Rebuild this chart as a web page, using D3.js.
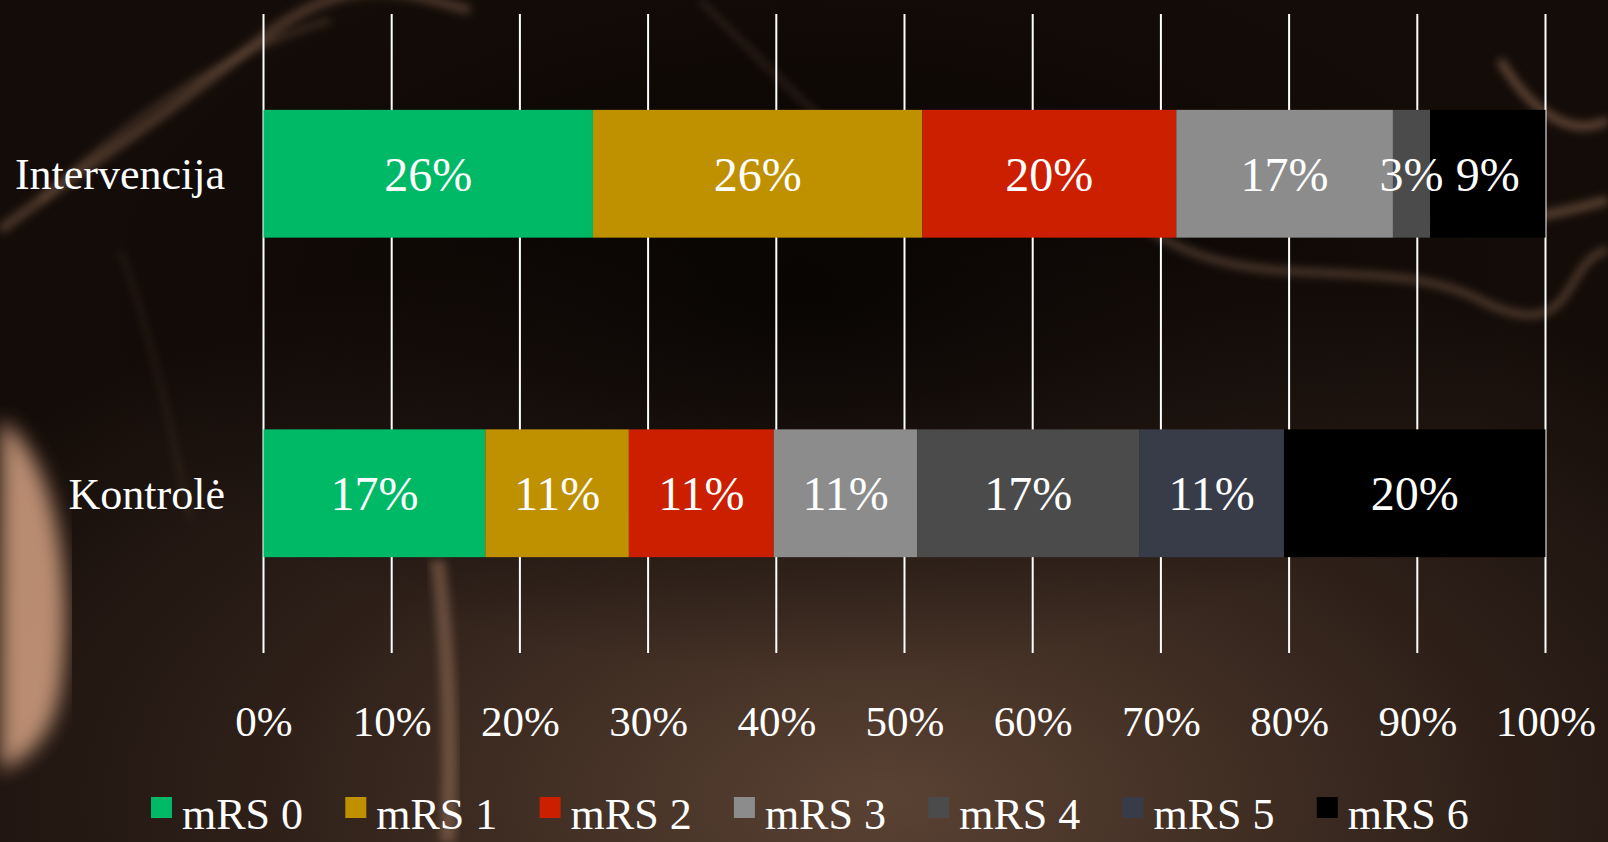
<!DOCTYPE html>
<html>
<head>
<meta charset="utf-8">
<script src="https://cdn.jsdelivr.net/npm/d3@7"></script>
<style>
  html, body { margin: 0; padding: 0; background: #1a100b; }
  svg { display: block; }
</style>
</head>
<body>
<div id="chart"></div>
<script>
// data (percent of patients per mRS score)
var groups = ["Intervencija", "Kontrolė"];
var seriesNames = ["mRS 0", "mRS 1", "mRS 2", "mRS 3", "mRS 4", "mRS 5", "mRS 6"];
var intervencija = [25.7, 25.7, 19.8, 16.9, 2.9, 0, 9.0];
var kontrole = [17.3, 11.2, 11.3, 11.2, 17.3, 11.3, 20.4];
var colors = ["#00b966", "#bf9000", "#cc1f00", "#8c8c8c", "#4b4b4b", "#383c48", "#000000"];
var ticks = [0, 10, 20, 30, 40, 50, 60, 70, 80, 90, 100];

var width = 1608, height = 842;
var font = "'Liberation Serif', 'Times New Roman', serif";

var svg = d3.select("#chart").append("svg")
  .attr("width", width)
  .attr("height", height);

// background, a dark brown photo look
var defs = svg.append("defs");
var rg = defs.append("radialGradient").attr("id", "glow")
  .attr("cx", "0.55").attr("cy", "0.95").attr("r", "0.7");
rg.append("stop").attr("offset", "0%").attr("stop-color", "#5a4233");
rg.append("stop").attr("offset", "55%").attr("stop-color", "#2e2019");
rg.append("stop").attr("offset", "100%").attr("stop-color", "#140c08");
var rg2 = defs.append("radialGradient").attr("id", "glow2")
  .attr("cx", "0.5").attr("cy", "0.35").attr("r", "0.45");
rg2.append("stop").attr("offset", "0%").attr("stop-color", "#050302").attr("stop-opacity", 0.85);
rg2.append("stop").attr("offset", "100%").attr("stop-color", "#050302").attr("stop-opacity", 0);
defs.append("filter").attr("id", "blur")
  .append("feGaussianBlur").attr("stdDeviation", 4);
defs.append("filter").attr("id", "blur2")
  .append("feGaussianBlur").attr("stdDeviation", 10);

svg.append("rect").attr("width", width).attr("height", height).attr("fill", "url(#glow)");
svg.append("rect").attr("width", width).attr("height", height).attr("fill", "url(#glow2)");

var strokes = [
  {d: "M0,230 C80,170 160,120 260,40 S420,0 470,10", w: 10, o: 0.35},
  {d: "M40,200 C120,130 200,60 330,20", w: 5, o: 0.3},
  {d: "M1180,120 C1300,190 1400,260 1608,200", w: 9, o: 0.45},
  {d: "M1150,230 C1250,300 1380,250 1480,300 S1560,260 1608,250", w: 7, o: 0.4},
  {d: "M1500,60 C1530,110 1570,140 1608,120", w: 8, o: 0.5},
  {d: "M700,0 C760,60 820,120 880,170", w: 4, o: 0.25},
  {d: "M120,250 C150,330 170,420 190,520", w: 3, o: 0.2}
];
svg.append("g").attr("filter", "url(#blur)")
  .selectAll("path").data(strokes).join("path")
  .attr("d", function(s) { return s.d; })
  .attr("fill", "none")
  .attr("stroke", "#b08466")
  .attr("stroke-width", function(s) { return s.w; })
  .attr("stroke-opacity", function(s) { return s.o; });
// light shape on the left edge
svg.append("path")
  .attr("d", "M0,420 C50,450 75,560 62,680 C55,740 25,760 0,770 Z")
  .attr("fill", "#d4a283").attr("opacity", 0.85).attr("filter", "url(#blur2)");
svg.append("path")
  .attr("d", "M430,560 C440,640 445,740 440,842 L455,842 C460,740 455,640 445,560 Z")
  .attr("fill", "#c9987a").attr("opacity", 0.35).attr("filter", "url(#blur)");

// scales
var x = d3.scaleLinear().domain([0, 100]).range([263.5, 1545.5]);
var y = d3.scaleBand().domain(groups).range([14, 653]).paddingInner(0.6).paddingOuter(0.3);

// gridlines
svg.append("g").selectAll("line").data(ticks).join("line")
  .attr("x1", function(d) { return x(d); })
  .attr("x2", function(d) { return x(d); })
  .attr("y1", 14).attr("y2", 653)
  .attr("stroke", "#ffffff").attr("stroke-width", 2);

// stack
var rows = groups.map(function(g, i) {
  var vals = i == 0 ? intervencija : kontrole;
  var r = {group: g};
  seriesNames.forEach(function(s, j) { r[s] = vals[j]; });
  return r;
});
var stacked = d3.stack().keys(seriesNames)(rows);

var layer = svg.append("g").selectAll("g").data(stacked).join("g")
  .attr("fill", function(d, i) { return colors[i]; });

layer.selectAll("rect").data(function(d) { return d; }).join("rect")
  .attr("x", function(d) { return x(d[0]); })
  .attr("width", function(d) { return x(d[1]) - x(d[0]); })
  .attr("y", function(d) { return y(d.data.group); })
  .attr("height", y.bandwidth());

// value labels, drawn after all the bars so nothing covers them
var labelData = [];
stacked.forEach(function(s) {
  s.forEach(function(p) { if (p[1] - p[0] > 0) labelData.push(p); });
});
svg.append("g").selectAll("text").data(labelData).join("text")
  .attr("x", function(d) { return (x(d[0]) + x(d[1])) / 2; })
  .attr("y", function(d) { return y(d.data.group) + y.bandwidth() / 2; })
  .attr("dy", "0.35em")
  .attr("text-anchor", "middle")
  .attr("fill", "#ffffff")
  .style("font-family", font)
  .style("font-size", "48px")
  .text(function(d) { return Math.round(d[1] - d[0]) + "%"; });

// category labels
svg.append("g").selectAll("text").data(groups).join("text")
  .attr("x", 225)
  .attr("y", function(d) { return y(d) + y.bandwidth() / 2; })
  .attr("dy", "0.35em")
  .attr("text-anchor", "end")
  .attr("fill", "#ffffff")
  .style("font-family", font)
  .style("font-size", "44px")
  .text(function(d) { return d; });

// x axis tick labels
var xAxis = d3.axisBottom(x).tickValues(ticks).tickSize(0).tickPadding(0)
  .tickFormat(function(d) { return d + "%"; });
var ax = svg.append("g").attr("transform", "translate(0,721)").call(xAxis);
ax.select(".domain").remove();
ax.selectAll("text")
  .attr("dy", "0.35em")
  .attr("fill", "#ffffff")
  .style("font-family", font)
  .style("font-size", "43px");

// legend
var legend = svg.append("g").selectAll("g").data(seriesNames).join("g")
  .attr("transform", function(d, i) { return "translate(" + (151 + i * 194.3) + ",797)"; });
legend.append("rect")
  .attr("width", 21).attr("height", 21)
  .attr("fill", function(d, i) { return colors[i]; });
legend.append("text")
  .attr("x", 31).attr("y", 17)
  .attr("dy", "0.35em")
  .attr("fill", "#ffffff")
  .style("font-family", font)
  .style("font-size", "44px")
  .text(function(d) { return d; });
</script>
</body>
</html>
